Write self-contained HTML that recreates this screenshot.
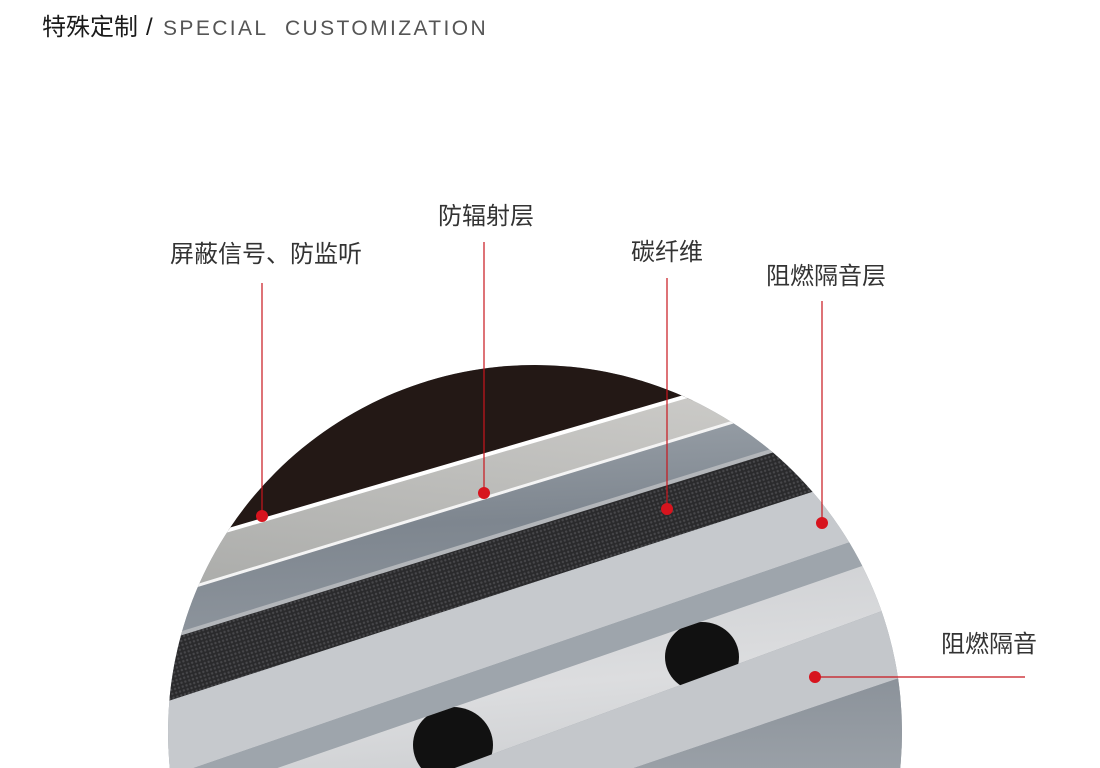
<!DOCTYPE html>
<html><head><meta charset="utf-8"><style>
html,body{margin:0;padding:0;background:#fff;width:1100px;height:768px;overflow:hidden;}
body{position:relative;font-family:"Liberation Sans","Noto Sans CJK SC",sans-serif;}
.t{position:absolute;font-size:24px;color:#333;white-space:nowrap;line-height:1;}
</style></head><body>
<div class="t" style="left:42px;top:16px;color:#1a1a1a;">特殊定制</div>
<div class="t" style="left:146px;top:16px;color:#1a1a1a;">/</div>
<div class="t" style="left:163px;top:18px;font-size:21px;color:#555;letter-spacing:2.4px;">SPECIAL&nbsp; CUSTOMIZATION</div>
<div class="t" style="left:170px;top:243px;">屏蔽信号、防监听</div>
<div class="t" style="left:438px;top:205px;">防辐射层</div>
<div class="t" style="left:631px;top:241px;">碳纤维</div>
<div class="t" style="left:766px;top:265px;">阻燃隔音层</div>
<div class="t" style="left:941px;top:633px;">阻燃隔音</div>
<svg width="1100" height="768" style="position:absolute;left:0;top:0;">
<defs>
<clipPath id="c"><circle cx="535" cy="732" r="367"/></clipPath>
<pattern id="cf" width="4" height="4" patternUnits="userSpaceOnUse" patternTransform="rotate(-17)">
<rect width="4" height="4" fill="#2a2a2c"/><circle cx="2" cy="2" r="1.2" fill="#47474a"/></pattern>
<linearGradient id="g1" x1="0" y1="1" x2="0.3" y2="0"><stop offset="0" stop-color="#a9aaa8"/><stop offset="1" stop-color="#cfcecb"/></linearGradient>
<linearGradient id="g2" x1="0" y1="0" x2="0.1" y2="1"><stop offset="0" stop-color="#a7aeb5"/><stop offset="0.6" stop-color="#7e868f"/><stop offset="1" stop-color="#8e959d"/></linearGradient>
<linearGradient id="g3" x1="0" y1="0" x2="0.2" y2="1"><stop offset="0" stop-color="#c9cbce"/><stop offset="0.5" stop-color="#dcdddf"/><stop offset="1" stop-color="#c0c3c6"/></linearGradient>
<linearGradient id="g4" x1="0" y1="0" x2="0" y2="1"><stop offset="0" stop-color="#8a9199"/><stop offset="1" stop-color="#b4b9be"/></linearGradient>
<clipPath id="h"><polygon points="150,812 920,546 920,597 150,880"/></clipPath>
</defs>
<g clip-path="url(#c)">
<rect x="150" y="300" width="800" height="500" fill="#8e959c"/>
<polygon points="150,300 950,300 950,328 150,553" fill="#231815"/>
<polygon points="150,553 920,328 920,365 150,600" fill="url(#g1)"/>
<polygon points="150,600 920,365 920,405 150,643" fill="url(#g2)"/>
<polygon points="150,643 920,405 920,457 150,707" fill="url(#cf)"/>
<polygon points="150,707 920,457 920,518 150,783" fill="#c6c9cd"/>
<polygon points="150,783 920,518 920,546 150,812" fill="#9ea5ac"/>
<polygon points="150,812 920,546 920,597 150,880" fill="url(#g3)"/>
<polygon points="150,880 920,597 920,671 150,932" fill="#c4c7cb"/>
<polygon points="150,932 920,671 920,800 150,800" fill="url(#g4)"/>
<line x1="150" y1="553" x2="920" y2="328" stroke="#fff" stroke-width="4"/>
<line x1="150" y1="600" x2="920" y2="365" stroke="#f4f4f4" stroke-width="3"/>
<line x1="150" y1="643" x2="920" y2="405" stroke="#b3b6ba" stroke-width="4"/>
<g clip-path="url(#h)">
<ellipse cx="702" cy="657" rx="37" ry="35" fill="#111"/>
<ellipse cx="453" cy="745" rx="40" ry="38" fill="#111"/>
</g>
</g>
<g stroke="#c8161d" stroke-width="1.2">
<line x1="262" y1="283" x2="262" y2="516"/>
<line x1="484" y1="242" x2="484" y2="493"/>
<line x1="667" y1="278" x2="667" y2="509"/>
<line x1="822" y1="301" x2="822" y2="523"/>
<line x1="815" y1="677" x2="1025" y2="677"/>
</g>
<g fill="#d7141e">
<circle cx="262" cy="516" r="6"/><circle cx="484" cy="493" r="6"/>
<circle cx="667" cy="509" r="6"/><circle cx="822" cy="523" r="6"/>
<circle cx="815" cy="677" r="6"/>
</g>
</svg>
</body></html>
